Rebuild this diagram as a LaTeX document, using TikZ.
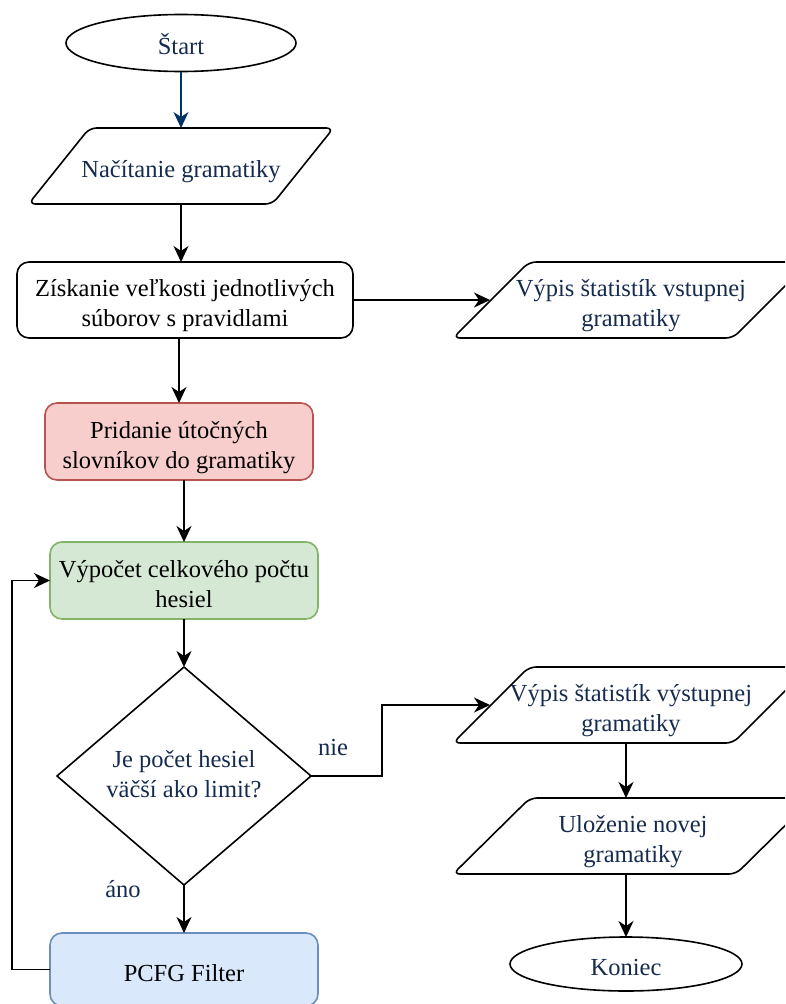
\documentclass[tikz,border=0pt]{standalone}
\usepackage{fontspec}
\setmainfont{Liberation Serif}
\usetikzlibrary{arrows.meta,shapes.geometric,calc}
\definecolor{navy}{HTML}{152B4E}
\definecolor{arrowblue}{HTML}{003366}
\definecolor{redfill}{HTML}{F8CECC}
\definecolor{redline}{HTML}{B85450}
\definecolor{greenfill}{HTML}{D5E8D4}
\definecolor{greenline}{HTML}{82B366}
\definecolor{bluefill}{HTML}{DAE8FC}
\definecolor{blueline}{HTML}{6C8EBF}
\begin{document}
\begin{tikzpicture}[x=1pt,y=-1pt,
  % struts fix the text box height (top to last baseline) and depth
  struts/.style 2 args={execute at begin node={\rule{0pt}{#1}},
                        execute at end node={\rule[-#2]{0pt}{#2}}},
  txt/.style={font=\fontsize{24.5}{30}\selectfont, align=center,
              inner sep=0pt, outer sep=0pt, struts={30pt}{7pt}},
  twolines/.style={struts={60pt}{7pt}},
  navytxt/.style={txt, text=navy},
  box/.style 2 args={txt, minimum width=#1, minimum height=#2},
  outline/.style={line width=1.6pt, line join=round},
  proc/.style={outline, draw, rounded corners=12pt},
  io/.style={outline, rounded corners=7pt},
  terminal/.style={navytxt, outline, draw, ellipse, struts={20pt}{4pt}},
  flow/.style={line width=1.6pt, -{Stealth[length=16pt,width=15pt,inset=5pt]}},
]
\useasboundingbox (0,0) rectangle (785,1004);
\clip (0,0) rectangle (785,1004);

% terminals
\node[terminal, minimum width=230, minimum height=57] (start) at (181,43) {Štart};
\node[terminal, minimum width=232, minimum height=54] (kon) at (626,964) {Koniec};

% input / output blocks (parallelograms drawn over an invisible frame)
\node[box={305}{76}, navytxt] (p1) at (181,166) {Načítanie gramatiky};
\draw[io] (p1.south west) -- ($(p1.north west)+(61,0)$) -- (p1.north east)
  -- ($(p1.south east)+(-61,0)$) -- cycle;

\node[box={356}{76}, navytxt, twolines] (p2) at (631,300) {Výpis štatistík vstupnej\\gramatiky};
\draw[io] (p2.south west) -- ($(p2.north west)+(76,0)$) -- (p2.north east)
  -- ($(p2.south east)+(-76,0)$) -- cycle;

\node[box={356}{76}, navytxt, twolines] (p3) at (631,705) {Výpis štatistík výstupnej\\gramatiky};
\draw[io] (p3.south west) -- ($(p3.north west)+(76,0)$) -- (p3.north east)
  -- ($(p3.south east)+(-76,0)$) -- cycle;

\node[box={360}{76}, navytxt, twolines] (p4) at (633,836) {Uloženie novej\\gramatiky};
\draw[io] (p4.south west) -- ($(p4.north west)+(77,0)$) -- (p4.north east)
  -- ($(p4.south east)+(-77,0)$) -- cycle;

% process blocks
\node[box={336}{76}, proc, twolines, fill=white] (r1) at (185,300)
  {Získanie veľkosti jednotlivých\\súborov s pravidlami};
\node[box={268}{77}, proc, twolines, fill=redfill, draw=redline] (red) at (179,441.5)
  {Pridanie útočných\\slovníkov do gramatiky};
\node[box={268}{77}, proc, twolines, fill=greenfill, draw=greenline] (green) at (184,580.5)
  {Výpočet celkového počtu\\hesiel};
\node[box={268}{73}, proc, fill=bluefill, draw=blueline] (filt) at (184,969.5)
  {PCFG Filter};

% decision
\node[box={254}{218}, navytxt, struts={50pt}{6pt}] (dec) at (184,776)
  {Je počet hesiel\\väčší ako limit?};
\draw[outline] (dec.north) -- (dec.east) -- (dec.south) -- (dec.west) -- cycle;

% branch labels
\node[navytxt, anchor=base] (nie) at (333,755) {nie};
\node[navytxt, anchor=base] (ano) at (123,897) {áno};

% connectors
\draw[flow, arrowblue] (start.south) -- (start.south |- p1.north);
\draw[flow] (p1.south) -- (p1.south |- r1.north);
\draw[flow] (r1.east) -- ($(p2.west)+(37,0)$);
\draw[flow] (red.north |- r1.south) -- (red.north);
\draw[flow] (green.north |- red.south) -- (green.north);
\draw[flow] (green.south) -- (dec.north);
\draw[flow] (dec.south) -- (filt.north);
\draw[flow] (filt.west) -- ++(-38,0) |- (green.west);
\draw[flow] (dec.east) -- ++(71,0) |- ($(p3.west)+(37,0)$);
\draw[flow] (kon.north |- p3.south) -- (kon.north |- p4.north);
\draw[flow] (kon.north |- p4.south) -- (kon.north);
\end{tikzpicture}
\end{document}
